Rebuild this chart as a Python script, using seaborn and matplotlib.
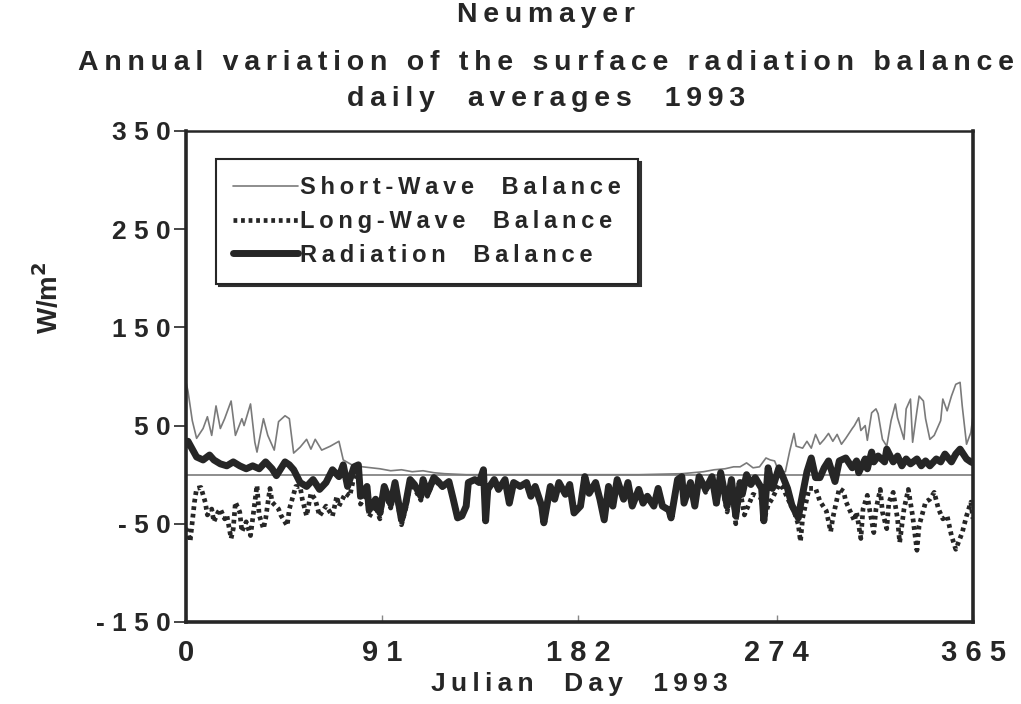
import matplotlib
matplotlib.use("Agg")
import matplotlib.pyplot as plt
import seaborn as sns
import pandas as pd

# Short-wave balance (W/m^2) by Julian day
sw_day = [0, 1, 3, 5, 8, 10, 12, 14, 16, 18, 21, 23, 26, 27, 30, 32, 33, 36, 38, 40,
          41, 43, 46, 48, 50, 53, 56, 58, 60, 63, 67, 71, 73, 77, 82, 86, 90, 95, 100,
          105, 110, 115, 120, 130, 150, 180, 210, 230, 240, 245, 250, 254, 257, 260,
          263, 266, 269, 271, 273, 275, 278, 280, 282, 283, 286, 288, 290, 292, 294,
          296, 298, 300, 302, 304, 306, 309, 310, 312, 313, 315, 316, 318, 320, 321,
          323, 325, 327, 329, 330, 333, 334, 336, 337, 339, 340, 342, 343, 345, 347,
          350, 351, 353, 355, 357, 359, 360, 362, 364, 365]
sw_val = [95, 85, 55, 37, 47, 59, 40, 70, 47, 57, 75, 40, 57, 50, 72, 33, 23, 57, 40, 30,
          25, 54, 60, 57, 22, 28, 36, 26, 36, 25, 29, 34, 15, 10, 8, 7, 6, 4, 5,
          3, 4, 2, 1, 0, 0, 0, 0, 1, 3, 5, 6, 8, 8, 12,
          7, 8, 17, 15, 14, 3, 3, 24, 42, 29, 27, 34, 27, 41, 31,
          36, 42, 34, 41, 31, 37, 47, 50, 58, 45, 50, 35, 63, 67, 62,
          36, 29, 55, 72, 58, 36, 67, 77, 33, 65, 80, 75, 57, 36, 40,
          55, 77, 65, 80, 92, 94, 70, 31, 43, 60]

# Long-wave balance (W/m^2) by Julian day
lw_day = [0, 1, 2, 3, 4, 5, 7, 9, 10, 12, 13, 15, 16, 18, 19, 21, 22, 23, 25, 26, 28,
          30, 31, 33, 34, 36, 37, 39, 40, 43, 44, 47, 48, 51, 53, 54, 56, 58, 60, 62,
          65, 68, 70, 71, 74, 76, 78, 80, 81, 84, 85, 88, 90, 92, 95, 97, 100, 102,
          104, 106, 109, 110, 112, 115, 117, 119, 122, 124, 126, 128, 130, 131, 134,
          136, 138, 139, 140, 143, 145, 148, 150, 152, 155, 158, 160, 162, 165, 166,
          169, 171, 173, 176, 178, 180, 183, 185, 187, 190, 192, 194, 196, 198, 200,
          203, 205, 207, 210, 212, 214, 217, 219, 221, 224, 225, 228, 230, 231, 234,
          236, 238, 241, 244, 246, 248, 251, 253, 255, 257, 259, 263, 267, 268, 270,
          272, 275, 277, 279, 282, 284, 285, 286, 289, 292, 294, 297, 299, 300, 303,
          305, 306, 308, 310, 311, 313, 314, 316, 317, 319, 320, 322, 323, 325, 326,
          328, 330, 331, 333, 335, 337, 339, 340, 343, 345, 347, 349, 351, 353, 355,
          357, 360, 362, 364, 365]
lw_val = [-55, -58, -68, -48, -28, -14, -13, -28, -41, -35, -48, -38, -35, -45, -41, -65,
          -55, -28, -38, -58, -48, -62, -45, -11, -41, -55, -45, -14, -28, -35, -41, -52,
          -35, -12, -12, -25, -42, -19, -25, -42, -32, -42, -22, -32, -19, -22, -2, 2,
          -30, -19, -43, -32, -45, -18, -34, -13, -51, -34, -9, -14, -26, -9, -22, -5,
          -9, -13, -8, -26, -44, -42, -32, -8, -5, -8, 5, -47, -15, -5, -15, -5, -29,
          -8, -12, -8, -22, -12, -32, -49, -12, -25, -8, -20, -10, -39, -32, -2, -19,
          -8, -25, -46, -12, -32, -5, -25, -8, -32, -15, -29, -22, -32, -14, -32, -36,
          -44, -5, -3, -30, -9, -33, -4, -18, -6, -33, -4, -38, -12, -50, -16, -41, -20,
          -24, -47, -31, -24, -10, -14, -24, -37, -51, -68, -44, -14, -14, -27, -37,
          -58, -44, -14, -17, -27, -37, -47, -38, -65, -35, -21, -35, -59, -35, -15,
          -38, -55, -28, -18, -45, -69, -35, -15, -42, -77, -52, -28, -25, -18, -35,
          -45, -42, -62, -76, -59, -42, -28, -45]

# Net radiation balance (W/m^2) by Julian day
rad_day = [0, 1, 3, 5, 8, 11, 13, 16, 19, 22, 25, 28, 31, 34, 37, 40, 42, 44, 46, 48, 50,
           53, 56, 59, 62, 65, 68, 71, 73, 75, 78, 80, 81, 84, 85, 88, 90, 92, 95, 97,
           100, 102, 104, 106, 109, 110, 112, 115, 117, 119, 122, 124, 126, 128, 130,
           131, 134, 136, 138, 139, 140, 143, 145, 148, 150, 152, 155, 158, 160, 162,
           165, 166, 169, 171, 173, 176, 178, 180, 183, 185, 187, 190, 192, 194, 196,
           198, 200, 203, 205, 207, 210, 212, 214, 217, 219, 221, 224, 225, 228, 230,
           231, 234, 236, 238, 241, 244, 246, 248, 251, 253, 255, 257, 258, 260, 262,
           264, 267, 268, 270, 272, 275, 277, 279, 281, 284, 285, 288, 290, 292, 294,
           296, 298, 301, 303, 306, 309, 311, 312, 315, 316, 318, 319, 321, 324, 325,
           328, 330, 332, 334, 336, 339, 341, 343, 345, 348, 350, 352, 355, 357, 359,
           362, 364, 365]
rad_val = [30, 34, 26, 18, 15, 20, 15, 11, 9, 13, 9, 6, 9, 6, 13, 6, -1, 6, 13, 10, 5,
           -8, -12, -5, -15, -8, 5, -2, 10, -12, 8, 10, -22, -12, -36, -25, -39, -12, -30,
           -8, -46, -29, -5, -10, -22, -5, -19, -3, -7, -12, -7, -25, -44, -42, -32,
           -8, -5, -8, 5, -47, -15, -5, -15, -5, -29, -8, -12, -8, -22, -12,
           -32, -49, -12, -25, -8, -20, -10, -39, -32, -2, -19, -8, -25, -46, -12,
           -32, -5, -25, -8, -32, -15, -29, -22, -32, -14, -32, -36, -44, -5, -2,
           -29, -8, -32, -2, -15, -2, -29, 2, -32, -5, -42, -8, -20, 0, -10,
           -3, -14, -47, 7, -14, 7, -3, -14, -31, -44, -31, 3, 17, -3, -3,
           7, 14, -7, 14, 17, 7, 14, 2, 16, 6, 23, 13, 19, 13, 26,
           13, 19, 9, 16, 11, 16, 9, 14, 9, 16, 13, 21, 13, 21, 26,
           16, 13, 12]

LABELS = ["Short-Wave  Balance", "Long-Wave  Balance", "Radiation  Balance"]
x_ticks = [0, 91, 182, 274, 365]
y_ticks = [-150, -50, 50, 150, 250, 350]


def spaced(text):
    """Open up the letter spacing with thin spaces between characters."""
    return "\u2009".join(text)


sns.set_style("ticks")
plt.rcParams["font.family"] = ["Liberation Sans", "DejaVu Sans"]
plt.rcParams["font.weight"] = "bold"
INK = "#262626"

fig = plt.figure(figsize=(10.21, 7.04), dpi=100)
ax = fig.add_axes([0.182, 0.1165, 0.771, 0.6975])

ax.axhline(0, color="#7a7a7a", lw=1.2, zorder=1)

sw = pd.DataFrame({"day": sw_day, "val": sw_val})
lw = pd.DataFrame({"day": lw_day, "val": lw_val})
rad = pd.DataFrame({"day": rad_day, "val": rad_val})

sns.lineplot(data=sw, x="day", y="val", ax=ax, color="#7a7a7a", lw=1.2,
             label=spaced(LABELS[0]), zorder=2)
sns.lineplot(data=lw, x="day", y="val", ax=ax, color=INK, lw=3.4,
             linestyle=(0, (0.8, 0.8)), label=spaced(LABELS[1]), zorder=3)
sns.lineplot(data=rad, x="day", y="val", ax=ax, color=INK, lw=5.0,
             label=spaced(LABELS[2]), zorder=4)

ax.set_xlim(0, 365)
ax.set_ylim(-150, 350)

ax.set_xticks(x_ticks)
ax.set_xticklabels([" ".join(str(t)) for t in x_ticks])
ax.set_yticks(y_ticks)
ax.set_yticklabels([" ".join(str(t)) for t in y_ticks])
ax.tick_params(axis="y", direction="out", length=9, width=1.2, color=INK,
               labelsize=19, labelcolor=INK, pad=2)
ax.tick_params(axis="x", direction="in", length=5, width=1, color="#888888",
               labelsize=21, labelcolor=INK, pad=12)

for side in ["left", "right", "bottom"]:
    ax.spines[side].set_linewidth(2.6)
    ax.spines[side].set_color(INK)
ax.spines["top"].set_linewidth(1.8)
ax.spines["top"].set_color(INK)
ax.spines["top"].set_visible(True)
ax.spines["right"].set_visible(True)

ax.set_xlabel(spaced("Julian  Day  1993"), fontsize=19, color=INK, labelpad=4,
              fontweight="bold")
ax.set_ylabel("W/m$^{\\mathbf{2}}$", fontsize=20, color=INK, fontweight="bold")
ax.yaxis.set_label_coords(-0.155, 0.66)

leg = ax.legend(loc="upper left", bbox_to_anchor=(0.038, 0.942), frameon=True,
                fancybox=False, shadow={"color": "#303030", "alpha": 1.0},
                edgecolor=INK, framealpha=1, fontsize=17, handlelength=2.75,
                handletextpad=0.1, labelspacing=0.45, borderpad=0.72,
                borderaxespad=0)
leg.get_frame().set_linewidth(1.5)
for t in leg.get_texts():
    t.set_color(INK)
    t.set_fontweight("bold")

title_kw = dict(ha="center", va="center", fontsize=20.5, color=INK, fontweight="bold")
fig.text(0.535, 0.978, spaced("Neumayer"), **title_kw)
fig.text(0.535, 0.91, spaced("Annual variation of the surface radiation balance"),
         **title_kw)
fig.text(0.535, 0.86, spaced("daily  averages  1993"), **title_kw)

fig.savefig("out.png", dpi=100)
